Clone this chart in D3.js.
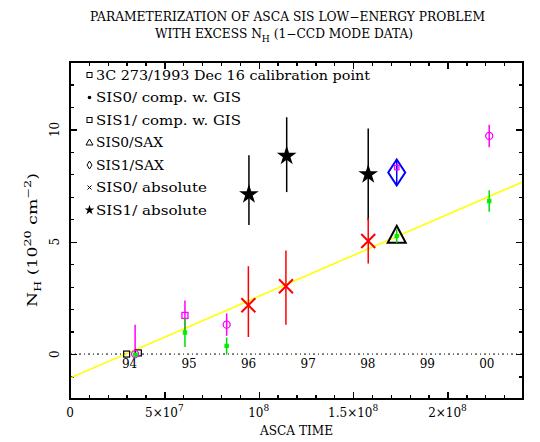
<!DOCTYPE html>
<html><head><meta charset="utf-8">
<script src="https://cdn.jsdelivr.net/npm/d3@7"></script>
<style>body{margin:0;background:#fff}svg{display:block}text{font-family:"DejaVu Serif","Liberation Serif",serif;fill:#000}</style>
</head><body>
<script>
// ---------- data ----------
const titleLines = ["PARAMETERIZATION OF ASCA SIS LOW\u2212ENERGY PROBLEM", "WITH EXCESS N_H (1\u2212CCD MODE DATA)"];
const xTickValues = [0, 5e7, 1e8, 1.5e8, 2e8];
const xTickLabels = [["0", ""], ["5\u00d710", "7"], ["10", "8"], ["1.5\u00d710", "8"], ["2\u00d710", "8"]];
const yTickValues = [0, 5, 10];
const yTickLabels = ["0", "5", "10"];
const yearTimes = [3.1536e7, 6.3072e7, 9.4608e7, 1.2623e8, 1.57766e8, 1.89302e8, 2.20838e8];
const yearLabels = ["94", "95", "96", "97", "98", "99", "00"];
const legendLabels = ["3C 273/1993 Dec 16 calibration point", "SIS0/ comp. w. GIS", "SIS1/ comp. w. GIS", "SIS0/SAX", "SIS1/SAX", "SIS0/ absolute", "SIS1/ absolute"];

// calibration point(s)
const calibT = [3.0e7, 3.62e7];
const calibV = [0.0, 0.05];
// SIS0 comp. w. GIS (green)
const sis0GisT = [3.47e7, 6.09e7, 8.30e7, 1.731e8, 2.221e8];
const sis0GisV = [-0.03, 0.96, 0.36, 5.25, 6.81];
const sis0GisE = [0.08, 0.65, 0.38, 0.30, 0.48];
// SIS1 comp. w. GIS (magenta) - squares
const sis1GisSqT = [6.09e7, 1.731e8];
const sis1GisSqV = [1.72, 8.30];
const sis1GisSqE = [0.66, 0.15];
// SIS1 comp. w. GIS (magenta) - circles
const sis1GisCiT = [3.45e7, 8.30e7, 2.221e8];
const sis1GisCiV = [0.0, 1.31, 9.71];
const sis1GisCiLo = [0.0, 0.81, 9.21];
const sis1GisCiHi = [1.30, 1.81, 10.21];
// SIS0/SAX
const sis0SaxT = [1.731e8];
const sis0SaxV = [5.24];
// SIS1/SAX
const sis1SaxT = [1.731e8];
const sis1SaxV = [8.08];
const sis1SaxE = [0.52];
// SIS0/ absolute (red x)
const sis0AbsT = [9.45e7, 1.144e8, 1.58e8];
const sis0AbsV = [2.17, 3.02, 5.03];
const sis0AbsLo = [0.76, 1.31, 4.03];
const sis0AbsHi = [3.91, 4.61, 6.04];
// SIS1/ absolute (black star)
const sis1AbsT = [9.48e7, 1.148e8, 1.58e8];
const sis1AbsV = [7.11, 8.82, 8.00];
const sis1AbsLo = [5.74, 7.21, 5.96];
const sis1AbsHi = [8.85, 10.54, 10.04];
// linear fit
const fitIntercept = -1.07;
const fitSlope = 3.64e-8;

// ---------- chart ----------
const W = 540, H = 442;
const L = 70, R = 523, T = 62, B = 399;
const svg = d3.select("body").append("svg").attr("width", W).attr("height", H);
const x = d3.scaleLinear().domain([0, 2.4e8]).range([L, R]);
const y = d3.scaleLinear().domain([-2, 13]).range([B, T]);

// title
const tt = svg.append("g");
tt.append("text").attr("x", 90).attr("y", 21).attr("font-size", 12)
  .attr("textLength", 395).attr("lengthAdjust", "spacingAndGlyphs").text(titleLines[0]);
const t2 = tt.append("text").attr("x", 155).attr("y", 38).attr("font-size", 12)
  .attr("textLength", 258).attr("lengthAdjust", "spacingAndGlyphs");
const t2parts = titleLines[1].split("N_H");
t2.append("tspan").text(t2parts[0] + "N");
t2.append("tspan").attr("dy", 4).attr("font-size", 9).text("H");
t2.append("tspan").attr("dy", -4).text(t2parts[1]);

// axes (ticks inward)
function minorVals(lo, hi, step) { return d3.range(lo, hi + step / 2, step); }
const xMinor = minorVals(0, 2.4e8, 1e7);
const yMinor = minorVals(-2, 13, 1);
const axG = svg.append("g").attr("shape-rendering", "crispEdges");
function addAxis(axisFn, scale, vals, size, tr) {
  const g = axG.append("g").attr("transform", tr)
    .call(axisFn(scale).tickValues(vals).tickSize(size).tickFormat(""));
  g.select(".domain").remove();
  g.selectAll("line").attr("stroke", "#000").attr("stroke-width", 1.3);
}
addAxis(d3.axisBottom, x, xMinor, -4, `translate(0,${B})`);
addAxis(d3.axisBottom, x, xTickValues, -7, `translate(0,${B})`);
addAxis(d3.axisTop, x, xMinor, -4, `translate(0,${T})`);
addAxis(d3.axisTop, x, xTickValues, -7, `translate(0,${T})`);
addAxis(d3.axisLeft, y, yMinor, -4, `translate(${L},0)`);
addAxis(d3.axisLeft, y, yTickValues, -7, `translate(${L},0)`);
addAxis(d3.axisRight, y, yMinor, -4, `translate(${R},0)`);
addAxis(d3.axisRight, y, yTickValues, -7, `translate(${R},0)`);

// x tick labels with superscripts
xTickValues.forEach((v, i) => {
  const t = svg.append("text").attr("x", x(v)).attr("y", 417).attr("text-anchor", "middle").attr("font-size", 12);
  t.append("tspan").text(xTickLabels[i][0]);
  if (xTickLabels[i][1]) t.append("tspan").attr("dy", -6).attr("font-size", 9).text(xTickLabels[i][1]);
});
// y tick labels (rotated)
yTickValues.forEach((v, i) => {
  svg.append("text").attr("transform", `translate(59,${y(v)}) rotate(-90)`)
    .attr("text-anchor", "middle").attr("font-size", 12).text(yTickLabels[i]);
});
// axis titles
svg.append("text").attr("x", 260).attr("y", 435).attr("font-size", 12)
  .attr("textLength", 73).attr("lengthAdjust", "spacingAndGlyphs").text("ASCA TIME");
const yt = svg.append("text").attr("transform", `translate(37,307) rotate(-90)`).attr("font-size", 12)
  .attr("textLength", 134).attr("lengthAdjust", "spacingAndGlyphs");
yt.append("tspan").text("N");
yt.append("tspan").attr("dy", 4).attr("font-size", 9).text("H");
yt.append("tspan").attr("dy", -4).text(" (10");
yt.append("tspan").attr("dy", -6).attr("font-size", 9).text("20");
yt.append("tspan").attr("dy", 6).text(" cm");
yt.append("tspan").attr("dy", -6).attr("font-size", 9).text("\u22122");
yt.append("tspan").attr("dy", 6).text(")");

// year labels
yearTimes.forEach((t, i) => {
  svg.append("text").attr("x", x(t)).attr("y", 368).attr("text-anchor", "middle").attr("font-size", 12).text(yearLabels[i]);
});

// plot content
const plot = svg.append("g");
plot.append("clipPath").attr("id", "clip").append("rect").attr("x", L).attr("y", T).attr("width", R - L).attr("height", B - T);
const pc = plot.append("g").attr("clip-path", "url(#clip)");
// zero line
pc.append("line").attr("x1", L).attr("x2", R).attr("y1", y(0)).attr("y2", y(0))
  .attr("stroke", "#000").attr("stroke-width", 1).attr("stroke-dasharray", "2,3,1,3");
// fit line
pc.append("line").attr("x1", x(0)).attr("x2", x(2.4e8))
  .attr("y1", y(fitIntercept)).attr("y2", y(fitIntercept + fitSlope * 2.4e8))
  .attr("stroke", "#ffff00").attr("stroke-width", 1.6);

function vbar(t, lo, hi, color, w) {
  pc.append("line").attr("x1", x(t)).attr("x2", x(t)).attr("y1", y(lo)).attr("y2", y(hi))
    .attr("stroke", color).attr("stroke-width", w || 1.5);
}
// error bars
sis1AbsT.forEach((t, i) => vbar(t, sis1AbsLo[i], sis1AbsHi[i], "#000"));
sis0AbsT.forEach((t, i) => vbar(t, sis0AbsLo[i], sis0AbsHi[i], "#ff0000"));
sis1GisCiT.forEach((t, i) => vbar(t, sis1GisCiLo[i], sis1GisCiHi[i], "#ff00ff"));
sis1GisSqT.forEach((t, i) => vbar(t, sis1GisSqV[i] - sis1GisSqE[i], sis1GisSqV[i] + sis1GisSqE[i], "#ff00ff"));
sis1SaxT.forEach((t, i) => vbar(t, sis1SaxV[i] - sis1SaxE[i], sis1SaxV[i] + sis1SaxE[i], "#0000ff"));

// markers
function xMark(g, cx, cy, s, color, w) {
  g.append("path").attr("d", `M${cx - s},${cy - s}L${cx + s},${cy + s}M${cx - s},${cy + s}L${cx + s},${cy - s}`)
    .attr("stroke", color).attr("stroke-width", w).attr("fill", "none");
}
function sqMark(g, cx, cy, s, color, w, filled) {
  g.append("rect").attr("x", cx - s).attr("y", cy - s).attr("width", 2 * s).attr("height", 2 * s)
    .attr("fill", filled ? color : "none").attr("stroke", color).attr("stroke-width", w);
}
function triMark(g, cx, cy, hw, up, down, color, w) {
  g.append("path").attr("d", `M${cx},${cy - up}L${cx + hw},${cy + down}L${cx - hw},${cy + down}Z`)
    .attr("fill", "none").attr("stroke", color).attr("stroke-width", w);
}
function diaMark(g, cx, cy, hw, hh, color, w) {
  g.append("path").attr("d", `M${cx},${cy - hh}L${cx + hw},${cy}L${cx},${cy + hh}L${cx - hw},${cy}Z`)
    .attr("fill", "none").attr("stroke", color).attr("stroke-width", w);
}
function starMark(g, cx, cy, size, color) {
  g.append("path").attr("d", d3.symbol(d3.symbolStar, size)()).attr("transform", `translate(${cx},${cy})`).attr("fill", color);
}

sis0AbsT.forEach((t, i) => xMark(pc, x(t), y(sis0AbsV[i]), 7, "#ff0000", 2));
sis1AbsT.forEach((t, i) => starMark(pc, x(t), y(sis1AbsV[i]), 120, "#000"));
sis1SaxT.forEach((t, i) => diaMark(pc, x(t), y(sis1SaxV[i]), 8.5, 13, "#0000ff", 2));
sis0SaxT.forEach((t, i) => triMark(pc, x(t), y(sis0SaxV[i]), 9, 10.5, 6.5, "#000", 2));
calibT.forEach((t, i) => sqMark(pc, x(t), y(calibV[i]), 3, "#000", 1.2, false));
sis1GisSqT.forEach((t, i) => sqMark(pc, x(t), y(sis1GisSqV[i]), i === 0 ? 3 : 2.2, "#ff00ff", 1.3, false));
sis1GisCiT.forEach((t, i) => pc.append("circle").attr("cx", x(t)).attr("cy", y(sis1GisCiV[i])).attr("r", 3.5)
  .attr("fill", "none").attr("stroke", "#ff00ff").attr("stroke-width", 1.3));
sis0GisT.forEach((t, i) => vbar(t, sis0GisV[i] - sis0GisE[i], sis0GisV[i] + sis0GisE[i], "#00dd00"));
sis0GisT.forEach((t, i) => sqMark(pc, x(t), y(sis0GisV[i]), 1.8, "#00ee00", 0.8, true));

// frame
svg.append("rect").attr("x", L).attr("y", T).attr("width", R - L).attr("height", B - T)
  .attr("fill", "none").attr("stroke", "#000").attr("stroke-width", 1.6).attr("shape-rendering", "crispEdges");

// legend
const lg = svg.append("g");
const legendWidths = [274, 145, 145, 67, 68, 111, 111];
legendLabels.forEach((lab, i) => {
  const cy = 75 + i * 22.5;
  const mx = 89.5;
  if (i === 0 || i === 2) sqMark(lg, mx, cy, 2.5, "#000", 1, false);
  if (i === 1) lg.append("circle").attr("cx", mx).attr("cy", cy).attr("r", 1.8).attr("fill", "#000");
  if (i === 3) triMark(lg, mx, cy, 3.5, 3.5, 2.5, "#000", 1);
  if (i === 4) diaMark(lg, mx, cy, 2.5, 4, "#000", 1);
  if (i === 5) xMark(lg, mx, cy, 2, "#000", 1);
  if (i === 6) starMark(lg, mx, cy, 30, "#000");
  lg.append("text").attr("x", 96).attr("y", cy + 4.8).attr("font-size", 13)
    .attr("textLength", legendWidths[i]).attr("lengthAdjust", "spacingAndGlyphs").text(lab);
});
</script>
</body></html>
